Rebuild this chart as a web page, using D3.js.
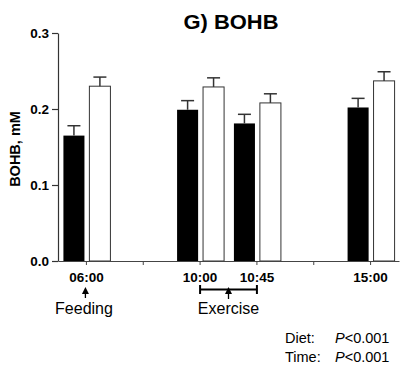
<!DOCTYPE html>
<html>
<head>
<meta charset="utf-8">
<script src="https://cdn.jsdelivr.net/npm/d3@7"></script>
<style>
  body { margin: 0; background: #fff; }
  svg { font-family: "Liberation Sans", Arial, sans-serif; }
</style>
</head>
<body>
<div id="container"></div>
<script>
// Chart data
var slots = ['06:00', 's1', '10:00', '10:45', 's4', '15:00'];
var timeLabels = ['06:00', '10:00', '10:45', '15:00'];
var diets = ['dietA', 'dietB'];
var meanA = [0.165, 0.199, 0.181, 0.202];
var semA = [0.013, 0.012, 0.012, 0.012];
var meanB = [0.230, 0.229, 0.208, 0.237];
var semB = [0.012, 0.012, 0.012, 0.012];
var yTicks = [0, 0.1, 0.2, 0.3];

var width = 402,
height = 367;
var FONT = '"Liberation Sans", Arial, sans-serif';

var svg = d3.select('#container').append('svg').attr('width', width).attr('height', height);

var x = d3.scaleBand().domain(slots).range([58, 399]);
var inner = d3.scaleBand().domain(diets).range([-23, 24]).paddingInner(0.19);
var y = d3.scaleLinear().domain([0, 0.3]).range([261, 33]);

function cx(t) { return x(t) + x.bandwidth() / 2; }

// build rows
var rows = [];
timeLabels.forEach(function (t, i) {
  rows.push({ time: t, diet: 'dietA', mean: meanA[i], sem: semA[i] });
  rows.push({ time: t, diet: 'dietB', mean: meanB[i], sem: semB[i] });
});

// bars
svg.append('g').selectAll('rect').data(rows).enter().append('rect')
  .attr('x', d => cx(d.time) + inner(d.diet))
  .attr('y', d => y(d.mean))
  .attr('width', inner.bandwidth())
  .attr('height', d => y(0) - y(d.mean))
  .attr('fill', d => d.diet === 'dietA' ? '#000' : '#fff')
  .attr('stroke', d => d.diet === 'dietA' ? 'none' : '#333')
  .attr('stroke-width', 1);

// error bars (upper only)
var err = svg.append('g').attr('stroke', '#333').attr('stroke-width', 1.5);
rows.forEach(function (d) {
  var mx = cx(d.time) + inner(d.diet) + inner.bandwidth() / 2;
  err.append('line').attr('x1', mx).attr('x2', mx).attr('y1', y(d.mean)).attr('y2', y(d.mean + d.sem));
  err.append('line').attr('x1', mx - 6.5).attr('x2', mx + 6.5).attr('y1', y(d.mean + d.sem)).attr('y2', y(d.mean + d.sem));
});

// axes
var yAxis = d3.axisLeft(y).tickValues(yTicks).tickSize(6).tickSizeOuter(0).tickFormat(d3.format('.1f'));
var gy = svg.append('g').attr('transform', 'translate(58,0)').call(yAxis);
gy.selectAll('path, line').attr('stroke', '#333').attr('stroke-width', 1.2);
gy.selectAll('text').attr('font-size', 13.5).attr('font-weight', 'bold').attr('fill', '#000')
  .attr('font-family', FONT).attr('x', -9);

var xAxis = d3.axisBottom(x).tickSize(4).tickSizeOuter(0)
  .tickFormat(d => timeLabels.includes(d) ? d : '');
var gx = svg.append('g').attr('transform', 'translate(0,261)').call(xAxis);
gx.selectAll('path, line').attr('stroke', '#444').attr('stroke-width', 1);
gx.selectAll('text').attr('font-size', 13.5).attr('font-weight', 'bold').attr('fill', '#000')
  .attr('font-family', FONT).attr('y', 11);

// y label
svg.append('text')
  .attr('transform', 'translate(20,149) rotate(-90)')
  .attr('text-anchor', 'middle')
  .attr('font-size', 14.5).attr('font-weight', 'bold')
  .text('BOHB, mM');

// title
svg.append('text').attr('x', 231).attr('y', 29).attr('text-anchor', 'middle')
  .attr('font-size', 21).attr('font-weight', 'bold')
  .attr('textLength', 95).attr('lengthAdjust', 'spacingAndGlyphs')
  .text('G) BOHB');

// arrows
function upArrow(ax, top, bottom) {
  svg.append('line').attr('x1', ax).attr('x2', ax).attr('y1', top + 4).attr('y2', bottom)
    .attr('stroke', '#000').attr('stroke-width', 1.3);
  svg.append('path').attr('d', 'M' + (ax - 3.5) + ',' + (top + 7) + 'L' + ax + ',' + top + 'L' + (ax + 3.5) + ',' + (top + 7) + 'Z')
    .attr('fill', '#000');
}
upArrow(cx('06:00') - 1, 287, 298);
svg.append('text').attr('x', 84).attr('y', 313.5).attr('text-anchor', 'middle')
  .attr('font-size', 16).text('Feeding');

// exercise bracket
var bx1 = cx('10:00'), bx2 = cx('10:45');
var br = svg.append('g').attr('stroke', '#000').attr('stroke-width', 2);
br.append('line').attr('x1', bx1).attr('x2', bx2).attr('y1', 289.5).attr('y2', 289.5);
br.append('line').attr('x1', bx1).attr('x2', bx1).attr('y1', 285).attr('y2', 294);
br.append('line').attr('x1', bx2).attr('x2', bx2).attr('y1', 285).attr('y2', 294);
upArrow((bx1 + bx2) / 2, 287, 299);
svg.append('text').attr('x', (bx1 + bx2) / 2).attr('y', 313.5).attr('text-anchor', 'middle')
  .attr('font-size', 16).text('Exercise');

// stats
var stats = [['Diet:', 342.5], ['Time:', 361.5]];
stats.forEach(function (s) {
  svg.append('text').attr('x', 285).attr('y', s[1]).attr('font-size', 14.5).text(s[0]);
  var t = svg.append('text').attr('x', 335).attr('y', s[1]).attr('font-size', 14.5);
  t.append('tspan').attr('font-style', 'italic').text('P');
  t.append('tspan').text('<0.001');
});
</script>
</body>
</html>
